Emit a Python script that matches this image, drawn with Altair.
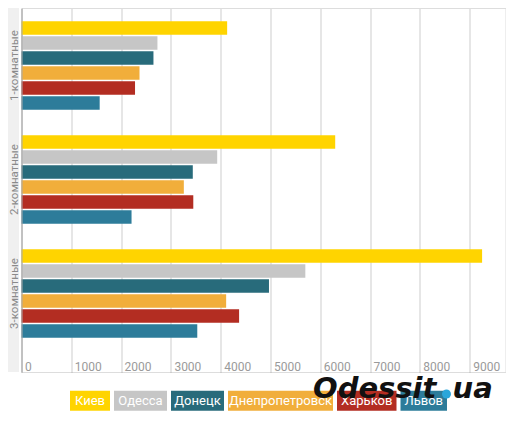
import altair as alt
import pandas as pd

rooms = ["1-комнатные", "2-комнатные", "3-комнатные"]
cities = ["Киев", "Одесса", "Донецк", "Днепропетровск", "Харьков", "Львов"]
colors = ["#FFD400", "#C6C6C6", "#286B7B", "#F1AE3B", "#B32D22", "#2D7C9A"]
values_1 = [4130, 2730, 2650, 2370, 2280, 1570]
values_2 = [6300, 3930, 3440, 3260, 3450, 2210]
values_3 = [9250, 5700, 4970, 4110, 4370, 3530]
x_ticks = [0, 1000, 2000, 3000, 4000, 5000, 6000, 7000, 8000, 9000]

FONT = "Roboto"

rows = []
for room, vals in zip(rooms, [values_1, values_2, values_3]):
    for c, v in zip(cities, vals):
        rows.append({"room": room, "city": c, "value": v})
df = pd.DataFrame(rows)

W, H = 484, 364

bars = alt.Chart(df).mark_bar().encode(
    y=alt.Y("room:N", sort=rooms, title=None,
            scale=alt.Scale(paddingInner=0.2105, paddingOuter=0.2018, align=0.272),
            axis=alt.Axis(labelAngle=270, labelAlign="center", labelBaseline="middle",
                          labelPadding=7.5, ticks=False, domain=True, domainColor="#aaaaaa",
                          labelColor="#8a8a8a", labelFontSize=11.5, labelFont=FONT,
                          grid=False, zindex=1)),
    yOffset=alt.YOffset("city:N", sort=cities,
                        scale=alt.Scale(paddingInner=0.1, paddingOuter=0.05)),
    x=alt.X("value:Q", title=None,
            scale=alt.Scale(domain=[0, 9720], nice=False, zero=True),
            axis=alt.Axis(values=x_ticks, format="d", grid=True, gridDash=[1, 1],
                          gridColor="#9a9a9a", gridOpacity=1, ticks=False, domain=False,
                          labelAlign="left", labelBaseline="alphabetic", labelPadding=-1.5,
                          labelOffset=3, labelFlush=False, labelOverlap=False,
                          labelColor="#9a9a9a", labelFontSize=12, labelFont=FONT)),
    color=alt.Color("city:N", sort=cities,
                    scale=alt.Scale(domain=cities, range=colors), legend=None),
)

one = pd.DataFrame({"a": [0]})
strip = alt.Chart(one).mark_rect(color="#f0f0f0", clip=False).encode(
    x=alt.value(-13.5), x2=alt.value(-2.5), y=alt.value(0), y2=alt.value(H)
)

# custom legend: boxes sized from the label lengths
char_w, pad, gap, start = 6.5, 7, 4, 48.5
leg = []
xpos = start
for c in cities:
    w = len(c) * char_w + 2 * pad
    leg.append({"city": c, "x0": xpos, "x1": xpos + w, "xc": xpos + w / 2})
    xpos += w + gap
leg_df = pd.DataFrame(leg)

leg_box = alt.Chart(leg_df).mark_rect(clip=False).encode(
    x=alt.X("x0:Q", scale=None), x2="x1:Q",
    y=alt.value(382.7), y2=alt.value(402.7),
    color=alt.Color("city:N", scale=alt.Scale(domain=cities, range=colors), legend=None),
)
leg_txt = alt.Chart(leg_df).mark_text(
    color="white", fontSize=13, font=FONT, baseline="middle", align="center", clip=False
).encode(
    x=alt.X("xc:Q", scale=None), y=alt.value(393), text="city:N"
)

logo_main = alt.Chart(one).mark_text(
    text="Odessit", font="DejaVu Sans", fontWeight="bold", fontStyle="italic",
    fontSize=29, color="#111111", align="left", baseline="alphabetic", clip=False
).encode(x=alt.value(291.5), y=alt.value(390))
logo_dot = alt.Chart(one).mark_point(
    filled=True, shape="circle", size=80, color="#2AA6DA", opacity=1, clip=False
).encode(x=alt.value(425), y=alt.value(386))
logo_ua = alt.Chart(one).mark_text(
    text="ua", font="DejaVu Sans", fontWeight="bold", fontStyle="italic",
    fontSize=29, color="#111111", align="left", baseline="alphabetic", clip=False
).encode(x=alt.value(431), y=alt.value(390))

chart = alt.layer(strip, bars, leg_box, leg_txt, logo_main, logo_dot, logo_ua).properties(
    width=W, height=H,
    autosize=alt.AutoSizeParams(type="none"),
    padding={"left": 13.5, "top": 0, "right": 0.5, "bottom": 41},
).configure_view(fill="#f3f3f3", stroke=None).configure(background="white")

chart.save("out.html", embed_options={"renderer": "svg", "actions": False})
